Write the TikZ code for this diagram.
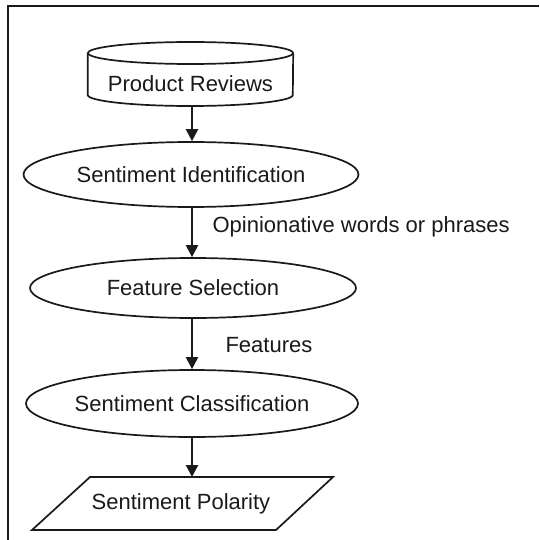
\documentclass[tikz,border=0pt]{standalone}
\usepackage{fontspec}
\setmainfont{Liberation Sans}
\usetikzlibrary{shapes.geometric,arrows.meta}
\definecolor{ink}{HTML}{1A1A1A}
\begin{document}
\begin{tikzpicture}[x=1pt,y=-1pt,
  every node/.style={font=\fontsize{22}{26}\selectfont, text=ink},
  outline/.style={draw=ink, line width=1.7pt},
  proc/.style={outline, ellipse, inner sep=0pt},
  flow/.style={draw=ink, line width=2.2pt, -{Triangle[width=12pt,length=12pt]}},
  lbl/.style={anchor=west}]
\useasboundingbox (0,0) rectangle (539,540);
\fill[white] (0,0) rectangle (539,540);
% frame
\draw[ink, line width=1.6pt] (8,540) -- (8,6) -- (539,6);
% cylinder
\node[minimum width=205pt, minimum height=64pt, inner sep=0pt] (pr) at (190.5,74) {};
\draw[outline, fill=white] (pr.west |- 0,53) -- (pr.west |- 0,95) arc[start angle=180, end angle=0, x radius=102.5, y radius=11] -- (pr.east |- 0,53);
\draw[outline] (190.5,53) ellipse[x radius=102.5, y radius=11];
\node (prt) at (190.5,84) {Product Reviews};
% processes
\node[proc, minimum width=335pt, minimum height=65pt] (si) at (191,174.5) {Sentiment Identification};
\node[proc, minimum width=326pt, minimum height=60pt] (fs) at (193,288) {Feature Selection};
\node[proc, minimum width=330pt, minimum height=67pt] (sc) at (192,403.5) {Sentiment Classification};
% output parallelogram
\node (sp) at (181,504) {Sentiment Polarity};
\draw[outline] (90,477) -- (333,477) -- (276,530) -- (32,530) -- cycle;
\coordinate (spt) at (192,477);
% connectors
\draw[flow] (pr.south -| 192,0) -- (192,0 |- si.north);
\draw[flow] (si.south -| 192,0) -- (192,0 |- fs.north);
\draw[flow] (fs.south -| 192,0) -- (192,0 |- sc.north);
\draw[flow] (sc.south -| 192,0) -- (spt);
% labels
\node[lbl] (l1) at (209,227) {Opinionative words or phrases};
\node[lbl] (l2) at (222,345) {Features};
\end{tikzpicture}
\end{document}
